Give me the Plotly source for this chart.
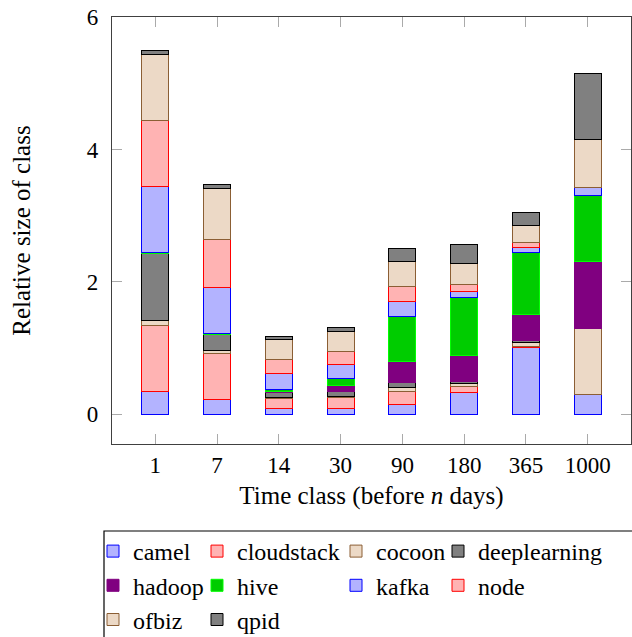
import plotly.graph_objects as go

categories = ["1", "7", "14", "30", "90", "180", "365", "1000"]

camel =        [0.35, 0.22, 0.08, 0.09, 0.15, 0.33, 1.01, 0.30]
cloudstack =   [0.99, 0.70, 0.15, 0.16, 0.20, 0.09, 0.02, 0.00]
cocoon =       [0.08, 0.05, 0.02, 0.02, 0.05, 0.04, 0.05, 1.00]
deeplearning = [1.01, 0.24, 0.08, 0.08, 0.08, 0.04, 0.04, 0.00]
hadoop =       [0.00, 0.00, 0.02, 0.08, 0.32, 0.39, 0.39, 1.01]
hive =         [0.01, 0.01, 0.02, 0.11, 0.68, 0.88, 0.94, 0.99]
kafka =        [1.00, 0.69, 0.24, 0.21, 0.22, 0.09, 0.07, 0.12]
node =         [1.00, 0.73, 0.22, 0.19, 0.23, 0.10, 0.07, 0.01]
ofbiz =        [0.99, 0.77, 0.30, 0.31, 0.38, 0.31, 0.26, 0.72]
qpid =         [0.07, 0.06, 0.04, 0.06, 0.19, 0.30, 0.19, 1.00]

series_names = ["camel", "cloudstack", "cocoon", "deeplearning", "hadoop",
                "hive", "kafka", "node", "ofbiz", "qpid"]
series_values = [camel, cloudstack, cocoon, deeplearning, hadoop,
                 hive, kafka, node, ofbiz, qpid]

BLUE = ("#b3b3ff", "#0000ff")
RED = ("#ffb3b3", "#ff0000")
BROWN = ("#ecd9c6", "#8b5e34")
GRAY = ("#808080", "#000000")
PURPLE = ("#800080", "#800080")
GREEN = ("#00cc00", "#00ff00")
styles = [BLUE, RED, BROWN, GRAY, PURPLE, GREEN, BLUE, RED, BROWN, GRAY]

# legend column of each series (4 columns, filled row by row)
legend_ids = ["legend", "legend2", "legend3", "legend4",
              "legend", "legend2", "legend3", "legend4",
              "legend", "legend2"]

FONT = "Liberation Serif"

fig = go.Figure()
for name, vals, (fill, line), lg in zip(series_names, series_values, styles, legend_ids):
    fig.add_trace(go.Bar(
        x=categories, y=vals, name=name, legend=lg,
        marker=dict(color=fill, line=dict(color=line, width=1)),
    ))

W, H = 632, 637
L, T = 112, 17
pw, ph = 519, 427
R = W - L - pw
B = H - T - ph

col_left = [93, 197, 336, 438]
leg_top = 529


def legend_cfg(xs):
    return dict(
        orientation="v",
        x=(xs - L) / pw, xanchor="left",
        y=(T + ph - leg_top) / ph, yanchor="top",
        traceorder="normal",
        font=dict(family=FONT, size=24, color="black"),
        bgcolor="rgba(0,0,0,0)",
        borderwidth=0,
        tracegroupgap=0,
    )


fig.update_layout(
    width=W, height=H,
    margin=dict(l=L, r=R, t=T, b=B, pad=0, autoexpand=False),
    barmode="stack",
    bargap=0.56,
    plot_bgcolor="white",
    paper_bgcolor="white",
    font=dict(family=FONT, size=23, color="black"),
    showlegend=True,
    legend=legend_cfg(col_left[0]),
    legend2=legend_cfg(col_left[1]),
    legend3=legend_cfg(col_left[2]),
    legend4=legend_cfg(col_left[3]),
    xaxis=dict(
        type="category",
        range=[-0.7, 7.7],
        showline=True, linecolor="#404040", linewidth=1.3, mirror="ticks",
        ticks="inside", ticklen=10, tickcolor="#aaaaaa", tickwidth=1,
        ticklabelstandoff=0, tickangle=0,
        tickfont=dict(family=FONT, size=23),
        showgrid=False, zeroline=False,
        title=dict(text="Time class (before <i>n</i> days)",
                   font=dict(family=FONT, size=25), standoff=9),
    ),
    yaxis=dict(
        range=[-0.45, 6.001],
        tickvals=[0, 2, 4, 6],
        showline=True, linecolor="#404040", linewidth=1.3, mirror="ticks",
        ticks="inside", ticklen=10, tickcolor="#aaaaaa", tickwidth=1,
        ticklabelstandoff=8,
        tickfont=dict(family=FONT, size=23),
        showgrid=False, zeroline=False,
        title=dict(text="Relative size of class",
                   font=dict(family=FONT, size=25), standoff=49),
    ),
    shapes=[dict(
        type="rect", xref="paper", yref="paper",
        x0=(104 - L) / pw, x1=(660 - L) / pw,
        y0=(T + ph - 531) / ph, y1=(T + ph - 700) / ph,
        line=dict(color="black", width=1.2), fillcolor="rgba(0,0,0,0)",
        layer="below",
    )],
)

fig.write_html(
    "out.html",
    config={"displayModeBar": False},
    post_script="document.body.style.margin='0';document.body.style.overflow='hidden';",
)
